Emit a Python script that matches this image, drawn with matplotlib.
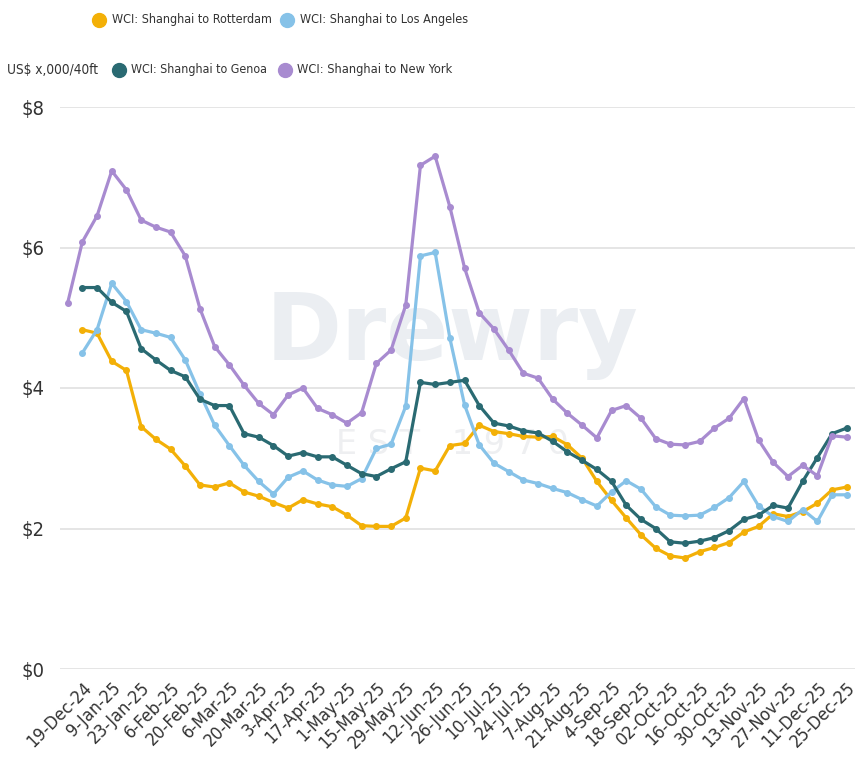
import matplotlib
matplotlib.use("Agg")
import matplotlib.pyplot as plt
from matplotlib.lines import Line2D
from matplotlib import font_manager
from matplotlib.font_manager import FontProperties

# locate a condensed / narrow regular font file if one is installed
cond_path = None
for f in font_manager.fontManager.ttflist:
    nm = (f.name + " " + f.fname).lower()
    if ("narrow" in nm or "condensed" in nm) and "bold" not in f.fname.lower() \
            and "oblique" not in f.fname.lower() and "italic" not in f.fname.lower():
        cond_path = f.fname
        break

plt.rcParams['font.family'] = ["Liberation Sans", "DejaVu Sans"]


def fp(size):
    if cond_path:
        return FontProperties(fname=cond_path, size=size)
    return FontProperties(family="Liberation Sans", size=size)


tick_labels = ["19-Dec-24", "9-Jan-25", "23-Jan-25", "6-Feb-25", "20-Feb-25", "6-Mar-25",
               "20-Mar-25", "3-Apr-25", "17-Apr-25", "1-May-25", "15-May-25", "29-May-25",
               "12-Jun-25", "26-Jun-25", "10-Jul-25", "24-Jul-25", "7-Aug-25", "21-Aug-25",
               "4-Sep-25", "18-Sep-25", "02-Oct-25", "16-Oct-25", "30-Oct-25", "13-Nov-25",
               "27-Nov-25", "11-Dec-25", "25-Dec-25"]

rotterdam = [4.83, 4.78, 4.38, 4.25, 3.45, 3.27, 3.13, 2.89, 2.62, 2.59, 2.65, 2.52, 2.46,
             2.37, 2.29, 2.41, 2.35, 2.31, 2.19, 2.04, 2.03, 2.03, 2.15, 2.86, 2.82, 3.18,
             3.21, 3.47, 3.38, 3.35, 3.31, 3.30, 3.31, 3.19, 3.00, 2.67, 2.40, 2.15, 1.91,
             1.72, 1.61, 1.58, 1.67, 1.73, 1.80, 1.95, 2.03, 2.21, 2.17, 2.24, 2.36, 2.55, 2.59]
los_angeles = [4.50, 4.83, 5.49, 5.23, 4.83, 4.78, 4.72, 4.40, 3.92, 3.47, 3.18, 2.90, 2.67,
               2.49, 2.73, 2.82, 2.69, 2.62, 2.60, 2.71, 3.14, 3.20, 3.74, 5.88, 5.93, 4.71,
               3.76, 3.19, 2.93, 2.81, 2.69, 2.64, 2.57, 2.51, 2.41, 2.32, 2.52, 2.68, 2.56,
               2.31, 2.19, 2.18, 2.19, 2.30, 2.44, 2.67, 2.32, 2.17, 2.10, 2.27, 2.10, 2.48, 2.48]
genoa = [5.43, 5.43, 5.22, 5.09, 4.56, 4.40, 4.25, 4.16, 3.84, 3.75, 3.75, 3.35, 3.30,
         3.18, 3.03, 3.08, 3.02, 3.02, 2.90, 2.78, 2.74, 2.85, 2.95, 4.08, 4.05, 4.08,
         4.11, 3.75, 3.50, 3.46, 3.39, 3.36, 3.24, 3.09, 2.97, 2.84, 2.67, 2.33, 2.13,
         2.00, 1.81, 1.79, 1.82, 1.87, 1.97, 2.13, 2.19, 2.33, 2.29, 2.67, 3.01, 3.35, 3.43]
new_york = [5.21, 6.08, 6.45, 7.09, 6.82, 6.39, 6.29, 6.22, 5.88, 5.13, 4.59, 4.33, 4.04,
            3.78, 3.62, 3.90, 4.00, 3.71, 3.62, 3.50, 3.65, 4.35, 4.54, 5.18, 7.17, 7.30,
            6.58, 5.71, 5.07, 4.84, 4.54, 4.21, 4.14, 3.84, 3.64, 3.47, 3.29, 3.68, 3.75,
            3.57, 3.28, 3.20, 3.19, 3.24, 3.43, 3.57, 3.85, 3.26, 2.94, 2.74, 2.90, 2.75,
            3.32, 3.30]

series = [
    ("WCI: Shanghai to Rotterdam", rotterdam, "#f3b007"),
    ("WCI: Shanghai to Los Angeles", los_angeles, "#86c2e8"),
    ("WCI: Shanghai to Genoa", genoa, "#2a6a72"),
    ("WCI: Shanghai to New York", new_york, "#a88bd0"),
]

W, H = 858, 757
fig = plt.figure(figsize=(W / 100, H / 100), dpi=100)
renderer = fig.canvas.get_renderer()
ax = fig.add_axes([60 / W, 1 - 669 / H, (855 - 60) / W, (669 - 107) / H])

TXT = "#333333"


def fitted_size(s, target_w, max_size):
    t = fig.text(0, 0, s, fontproperties=fp(10))
    w = t.get_window_extent(renderer).width
    t.remove()
    return min(max_size, 10 * target_w / w)


def fit_text(x_px, y_px, s, target_w, max_size=13.5, **kw):
    size = fitted_size(s, target_w, max_size)
    return fig.text(x_px / W, 1 - y_px / H, s, fontproperties=fp(size), **kw)


# watermark
ax.text(0.493, 0.55, "Drewry", transform=ax.transAxes, ha="center", va="baseline",
        fontsize=66, fontweight="bold", color="#ebeef2", zorder=0, family="DejaVu Sans")
ax.text(0.493, 0.40, "E S T   1 9 7 0", transform=ax.transAxes, ha="center", va="center",
        fontsize=24, color="#eeeff1", zorder=0, family="DejaVu Sans")

for name, vals, col in series:
    n = len(vals)
    start = 53 - n
    xs = list(range(start, start + n))
    ax.plot(xs, vals, color=col, lw=2.3, marker="o", markersize=4, zorder=3,
            solid_joinstyle="round")

ax.set_xlim(-1.52, 52.56)
ax.set_ylim(0, 8)
ax.set_yticks([0, 2, 4, 6, 8])
ax.set_yticklabels(["$0", "$2", "$4", "$6", "$8"], color=TXT)
ax.set_xticks(list(range(0, 53, 2)))
ax.set_xticklabels(tick_labels, rotation=45, ha="right", rotation_mode="anchor", color=TXT)

ysize = fitted_size("$0", 23, 16)
xsize = fitted_size("19-Dec-24", 84, 14)
for lab in ax.get_yticklabels():
    lab.set_fontproperties(fp(ysize))
for lab in ax.get_xticklabels():
    lab.set_fontproperties(fp(xsize))

ax.tick_params(axis="x", length=0, pad=7)
ax.tick_params(axis="y", length=0, pad=11)
for s in ax.spines.values():
    s.set_visible(False)
ax.grid(axis="y", color="#e3e3e3", lw=1.3)
ax.set_axisbelow(True)


# legend
def legend_item(x, y, text, col, text_x, text_w):
    fig.add_artist(Line2D([x / W], [1 - y / H], marker="o", markersize=10, color=col,
                          linestyle="none", transform=fig.transFigure))
    fit_text(text_x, y, text, text_w, ha="left", va="center", color=TXT)


legend_item(99, 20, series[0][0], series[0][2], 112, 160)
legend_item(287, 20, series[1][0], series[1][2], 300, 168)
fit_text(7, 70, "US$ x,000/40ft", 92, ha="left", va="center", color=TXT)
legend_item(119, 70, series[2][0], series[2][2], 131, 137)
legend_item(285, 70, series[3][0], series[3][2], 297, 155)

fig.savefig("out.png", dpi=100, facecolor="white")
